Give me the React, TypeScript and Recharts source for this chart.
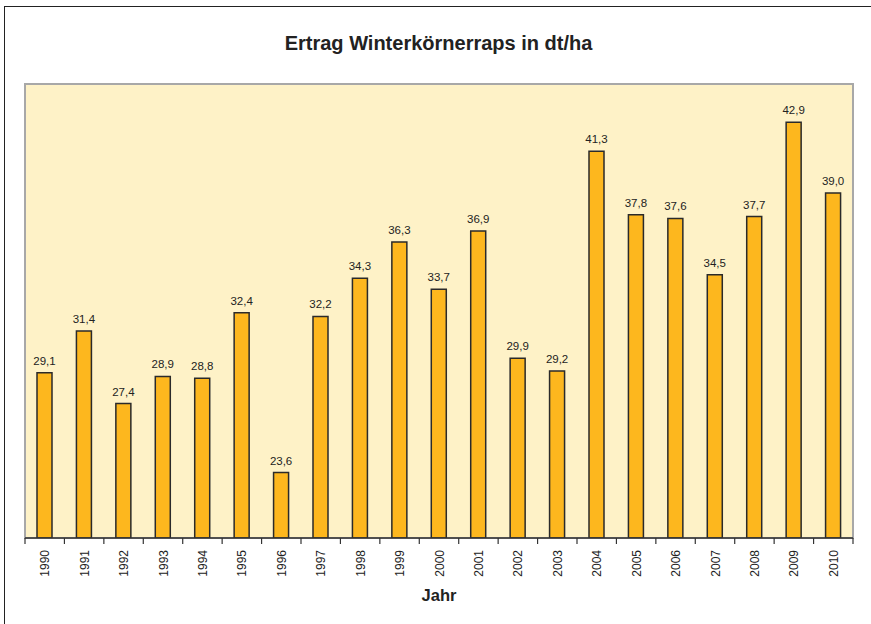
import { BarChart, Bar, XAxis, YAxis, LabelList, ReferenceArea } from 'recharts';

// Winterkörnerraps yield per year, dt/ha
const YEARS = [
  '1990', '1991', '1992', '1993', '1994', '1995', '1996', '1997', '1998', '1999', '2000',
  '2001', '2002', '2003', '2004', '2005', '2006', '2007', '2008', '2009', '2010',
];
const YIELDS = [
  29.1, 31.4, 27.4, 28.9, 28.8, 32.4, 23.6, 32.2, 34.3, 36.3, 33.7,
  36.9, 29.9, 29.2, 41.3, 37.8, 37.6, 34.5, 37.7, 42.9, 39.0,
];
const Y_DOMAIN: [number, number] = [20, 45];
// tick marks sit on the category boundaries, not the centres
const BOUNDARY_TICKS = YEARS.map((_, i) => i).concat(YEARS.length);

const data = YEARS.map((year, i) => ({ year, value: YIELDS[i], slot: i + 0.5 }));

const FONT = '"Liberation Sans", Arial, sans-serif';
const TEXT = '#222';

function formatValue(v: number): string {
  return v.toFixed(1).replace('.', ',');
}

type TickProps = { x?: number; y?: number; payload?: { value: string } };

function YearTick({ x = 0, y = 0, payload }: TickProps) {
  const ty = y + 11;
  return (
    <text
      x={x}
      y={ty}
      dy={4.5}
      transform={`rotate(-90, ${x}, ${ty})`}
      textAnchor="end"
      fontSize={12}
      fontFamily={FONT}
      fill={TEXT}
    >
      {payload?.value}
    </text>
  );
}

function NoLabel() {
  return <g />;
}

export default function App() {
  return (
    <div style={{ position: 'absolute', left: 0, top: 0, width: 871, height: 624, background: '#fff' }}>
      <div
        style={{
          position: 'absolute',
          left: 4,
          top: 6,
          width: 900,
          height: 700,
          borderLeft: '1.5px solid #222',
          borderTop: '1.5px solid #222',
        }}
      />
      <div
        style={{
          position: 'absolute',
          left: 0,
          top: 32,
          width: 877,
          textAlign: 'center',
          fontFamily: FONT,
          fontWeight: 'bold',
          fontSize: 20,
          color: TEXT,
        }}
      >
        Ertrag Winterkörnerraps in dt/ha
      </div>
      <div style={{ position: 'absolute', left: 0, top: 0 }}>
        <BarChart width={871} height={624} data={data} margin={{ top: 84, right: 18, bottom: 0, left: 25 }}>
          <XAxis
            xAxisId="bounds"
            dataKey="slot"
            type="number"
            domain={[0, YEARS.length]}
            ticks={BOUNDARY_TICKS}
            interval={0}
            height={1}
            tickSize={6}
            tick={<NoLabel />}
            tickLine={{ stroke: '#333', strokeWidth: 1.2 }}
            axisLine={{ stroke: '#333', strokeWidth: 1.5 }}
          />
          <XAxis
            xAxisId="cat"
            dataKey="year"
            height={85}
            interval={0}
            tickSize={0}
            tickMargin={0}
            axisLine={false}
            tickLine={false}
            tick={<YearTick />}
            label={{
              value: 'Jahr',
              position: 'insideBottom',
              offset: 23,
              fontSize: 16.5,
              fontWeight: 'bold',
              fontFamily: FONT,
              fill: TEXT,
            }}
          />
          <YAxis hide domain={Y_DOMAIN} allowDataOverflow />
          <ReferenceArea
            xAxisId="bounds"
            x1={0}
            x2={YEARS.length}
            y1={Y_DOMAIN[0]}
            y2={Y_DOMAIN[1]}
            fill="#FEF2C7"
            fillOpacity={1}
            stroke="#A8A8A8"
            strokeWidth={2}
            ifOverflow="visible"
          />
          <Bar
            xAxisId="cat"
            dataKey="value"
            barSize={15}
            fill="#FDB71E"
            stroke="#2a2a2a"
            strokeWidth={1.5}
            isAnimationActive={false}
          >
            <LabelList
              dataKey="value"
              position="top"
              offset={8}
              formatter={(v: number) => formatValue(v)}
              fontSize={11.5}
              fontFamily={FONT}
              fill={TEXT}
            />
          </Bar>
        </BarChart>
      </div>
    </div>
  );
}
